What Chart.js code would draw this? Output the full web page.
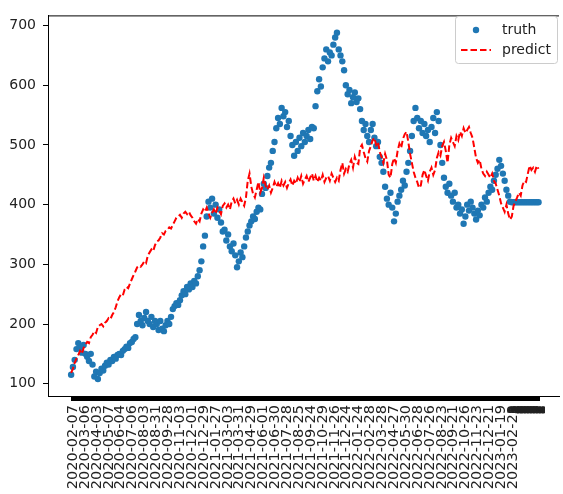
<!DOCTYPE html>
<html>
<head>
<meta charset="utf-8">
<script src="https://cdn.jsdelivr.net/npm/chart.js@4.4.1/dist/chart.umd.min.js"></script>
<style>
  html, body { margin: 0; padding: 0; background: #fff; }
  #chart { display: block; }
</style>
</head>
<body>
<canvas id="chart" width="563" height="494"></canvas>
<script>
// one label every 20 trading days
const tickDates = [
  "2020-02-07", "2020-03-06", "2020-04-03", "2020-05-07", "2020-06-04", "2020-07-06",
  "2020-08-03", "2020-08-31", "2020-09-28", "2020-11-03", "2020-12-01", "2020-12-29",
  "2021-01-27", "2021-03-03", "2021-03-31", "2021-04-29", "2021-06-01", "2021-06-30",
  "2021-07-28", "2021-08-25", "2021-09-24", "2021-10-29", "2021-11-26", "2021-12-24",
  "2022-01-24", "2022-02-28", "2022-03-28", "2022-04-27", "2022-05-30", "2022-06-28",
  "2022-07-26", "2022-08-23", "2022-09-21", "2022-10-26", "2022-11-23", "2022-12-21",
  "2023-01-19", "2023-02-23",
];
const tickEvery = 20;
const lastDay = 787;
const tailLabel = "2";
const yTicks = [100, 200, 300, 400, 500, 600, 700];

// values read every 3 trading days
const sampleStep = 3;
const truth = [
  115, 128, 140, 158, 168, 160, 152, 165, 150, 145,
  138, 150, 132, 112, 120, 108, 118, 125, 122, 130,
  135, 132, 140, 138, 145, 142, 148, 150, 148, 155,
  158, 162, 160, 168, 170, 175, 178, 200, 215, 205,
  198, 210, 220, 205, 200, 212, 195, 205, 200, 190,
  205, 192, 188, 198, 205, 200, 212, 225, 230, 235,
  232, 240, 248, 255, 250, 262, 258, 268, 262, 272,
  268, 280, 290, 305, 330, 348, 380, 405, 395, 410,
  385, 400, 378, 392, 370, 355, 358, 340, 350, 330,
  322, 335, 315, 295, 305, 320, 312, 330, 345, 355,
  365, 372, 380, 376, 388, 395, 392, 418, 435, 428,
  448, 462, 470, 490, 505, 528, 545, 535, 562, 548,
  555, 530, 540, 515, 500, 482, 505, 490, 512, 498,
  520, 505, 515, 525, 510, 530, 528, 565, 590, 610,
  598, 630, 645, 660, 640, 655, 650, 668, 680, 688,
  660, 650, 640, 625, 600, 585, 592, 570, 580, 588,
  572, 578, 560, 540, 525, 535, 515, 505, 525, 535,
  512, 498, 505, 480, 470, 455, 430, 410, 400, 420,
  395, 372, 385, 405, 415, 425, 440, 432, 455, 470,
  490, 515, 540, 562, 545, 528, 540, 520, 535, 515,
  525, 505, 530, 545, 520, 555, 540, 500, 470, 445,
  430, 420, 435, 415, 405, 420, 395, 400, 385, 392,
  368, 380, 400, 390, 405, 395, 385, 375, 390, 382,
  400, 395, 412, 405, 420, 430, 425, 440, 450, 460,
  475, 465, 452, 440, 425, 415, 405, 404, 404, 404,
  404, 404, 404, 404, 404, 404, 404, 404, 404, 404,
  404, 404, 404,
];
const predict = [
  118, 125, 135, 142, 148, 155, 150, 160, 165, 170,
  168, 178, 182, 188, 185, 195, 198, 200, 196, 202,
  205, 210, 208, 215, 220, 228, 238, 245, 250, 248,
  258, 262, 260, 268, 275, 282, 288, 295, 298, 296,
  300, 305, 302, 315, 320, 325, 322, 332, 338, 340,
  345, 352, 350, 356, 358, 362, 360, 366, 372, 378,
  380, 383, 378, 385, 388, 384, 388, 382, 378, 372,
  368, 376, 372, 385, 392, 388, 395, 386, 378, 386,
  392, 385, 395, 390, 384, 398, 402, 395, 400, 392,
  405, 410, 402, 408, 400, 410, 404, 398, 412, 440,
  452, 430, 418, 412, 425, 438, 420, 428, 445, 432,
  425, 432, 420, 428, 438, 430, 436, 428, 440, 432,
  438, 428, 436, 442, 432, 440, 435, 445, 438, 448,
  435, 442, 448, 438, 445, 452, 440, 448, 438, 445,
  440, 450, 438, 445, 448, 440, 452, 445, 438, 445,
  440, 458, 470, 452, 460, 455, 468, 475, 462, 480,
  470, 468, 495, 500, 488, 478, 472, 490, 498, 508,
  512, 500, 505, 488, 480, 470, 485, 475, 450, 445,
  468, 478, 470, 490, 502, 495, 510, 518, 522, 505,
  485, 470, 455, 445, 438, 428, 432, 450, 458, 448,
  440, 455, 462, 450, 458, 478, 488, 482, 498, 505,
  490, 470, 500, 512, 505, 498, 515, 508, 522, 515,
  528, 520, 525, 530, 520, 512, 495, 478, 470, 475,
  460, 452, 448, 455, 450, 445, 452, 440, 435, 425,
  415, 402, 395, 388, 400, 385, 375, 380, 398, 405,
  412, 420, 415, 432, 440, 438, 452, 465, 458, 462,
  455, 465, 460,
];

function dayLabel(i) {
  if (i % tickEvery === 0 && i / tickEvery < tickDates.length) return tickDates[i / tickEvery];
  if (i > (tickDates.length - 1) * tickEvery) return tailLabel;
  return "";
}

const frame = {
  id: "frame",
  afterDraw(chart) {
    const { ctx, chartArea } = chart;
    ctx.save();
    ctx.strokeStyle = "#000";
    ctx.lineWidth = 1;
    ctx.beginPath();
    ctx.moveTo(chartArea.left, chartArea.top + 0.5);
    ctx.lineTo(chartArea.right, chartArea.top + 0.5);
    ctx.stroke();
    ctx.restore();
  },
};

const legendBox = {
  id: "legendBox",
  afterDraw(chart) {
    const ctx = chart.ctx;
    const [t, p] = chart.data.datasets;
    ctx.save();
    ctx.beginPath();
    ctx.roundRect(455.5, 16.5, 102, 47, 3);
    ctx.fillStyle = "rgba(255,255,255,0.8)";
    ctx.fill();
    ctx.strokeStyle = "#cccccc";
    ctx.lineWidth = 1;
    ctx.stroke();

    ctx.fillStyle = t.backgroundColor;
    ctx.beginPath();
    ctx.arc(476, 30, 3.2, 0, Math.PI * 2);
    ctx.fill();

    ctx.strokeStyle = p.borderColor;
    ctx.lineWidth = 2;
    ctx.setLineDash([6.5, 3]);
    ctx.beginPath();
    ctx.moveTo(461, 50);
    ctx.lineTo(491, 50);
    ctx.stroke();
    ctx.setLineDash([]);

    ctx.fillStyle = "#222";
    ctx.font = "14px 'DejaVu Sans'";
    ctx.textBaseline = "middle";
    ctx.fillText(t.label, 502, 30);
    ctx.fillText(p.label, 502, 50);
    ctx.restore();
  },
};

new Chart(document.getElementById("chart"), {
  type: "scatter",
  data: {
    datasets: [
      {
        label: "truth",
        data: truth.map((v, k) => ({ x: k * sampleStep, y: v })),
        backgroundColor: "#1f77b4",
        borderWidth: 0,
        pointRadius: 3.2,
        order: 2,
      },
      {
        label: "predict",
        data: predict.map((v, k) => ({ x: k * sampleStep, y: v })),
        showLine: true,
        borderColor: "#ff0000",
        borderWidth: 2,
        borderDash: [6.5, 3],
        pointRadius: 0,
        tension: 0,
        order: 1,
      },
    ],
  },
  options: {
    responsive: false,
    animation: false,
    devicePixelRatio: 1,
    events: [],
    layout: { padding: { top: 9, right: 0, left: 0, bottom: 0 } },
    plugins: { legend: { display: false }, tooltip: { enabled: false } },
    scales: {
      x: {
        type: "linear",
        min: -38.9,
        max: 820.4,
        afterBuildTicks: (scale) => {
          const ticks = [];
          for (let i = 0; i <= lastDay; i++) ticks.push({ value: i });
          scale.ticks = ticks;
        },
        afterFit: (scale) => { scale.height = 98; },
        grid: { drawOnChartArea: false, tickLength: 5, color: "#000" },
        border: { display: true, color: "#000", width: 1 },
        ticks: {
          autoSkip: false,
          minRotation: 90,
          maxRotation: 90,
          padding: 4,
          labelOffset: 2,
          color: "#222",
          font: { family: "DejaVu Sans", size: 14.5 },
          callback: (v) => dayLabel(v),
        },
      },
      y: {
        min: 79.4,
        max: 717,
        afterBuildTicks: (scale) => { scale.ticks = yTicks.map((v) => ({ value: v })); },
        afterFit: (scale) => { scale.width = 48; },
        grid: { drawOnChartArea: false, tickLength: 5, color: "#000" },
        border: { display: true, color: "#000", width: 1 },
        ticks: {
          padding: 7,
          color: "#222",
          font: { family: "DejaVu Sans", size: 14 },
        },
      },
    },
  },
  plugins: [frame, legendBox],
});
</script>
</body>
</html>
